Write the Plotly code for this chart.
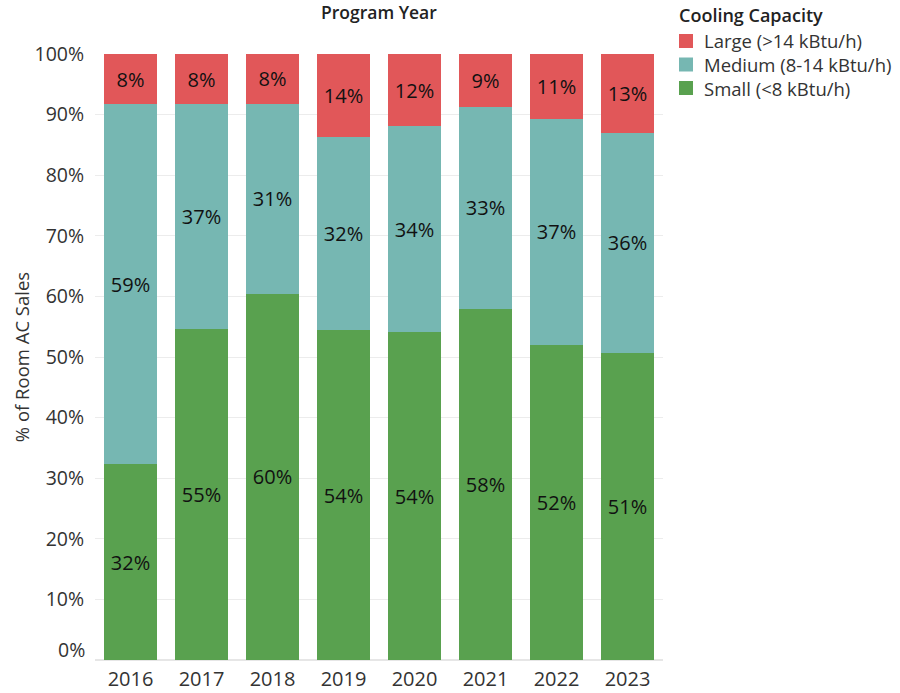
import plotly.graph_objects as go

years = ["2016", "2017", "2018", "2019", "2020", "2021", "2022", "2023"]

# share of room AC sales by cooling capacity, in percent
small = [32.3, 54.6, 60.4, 54.4, 54.1, 57.9, 52.0, 50.7]
medium = [59.4, 37.1, 31.4, 31.9, 34.0, 33.4, 37.3, 36.3]
large = [8.3, 8.3, 8.2, 13.7, 11.9, 8.7, 10.7, 13.0]

y_ticks = [10, 20, 30, 40, 50, 60, 70, 80, 90, 100]
y_tick_labels = [f"{v}%" for v in y_ticks]

series = [
    ("Small (<8 kBtu/h)", small, "#59A14F"),
    ("Medium (8-14 kBtu/h)", medium, "#76B7B2"),
    ("Large (>14 kBtu/h)", large, "#E15759"),
]

FONT = "Open Sans"
W, H = 900, 693
ML, MR, MT, MB = 95, 237, 54, 33
PW, PH = W - ML - MR, H - MT - MB


def px_to_paper(x, y):
    """Pixel position on the page -> paper coordinates of the plot area."""
    return (x - ML) / PW, (H - MB - y) / PH


fig = go.Figure()
for name, vals, color in series:
    fig.add_trace(go.Bar(
        x=years,
        y=vals,
        name=name,
        marker=dict(color=color, line=dict(width=0)),
        text=[f"{v:.0f}%" for v in vals],
        textposition="inside",
        insidetextanchor="middle",
        textangle=0,
        constraintext="none",
        textfont=dict(family=FONT, size=20, color="#111111"),
        hovertemplate="%{x}<br>" + name + ": %{y:.1f}%<extra></extra>",
        showlegend=False,
    ))

annotations = [
    dict(
        text="Program Year",
        xref="paper", yref="paper",
        x=0.5, y=1,
        xanchor="center", yanchor="top",
        yshift=56,
        showarrow=False,
        font=dict(family=FONT, size=17.5, color="#222222", weight=600),
    ),
    # the 0% label sits just above the baseline
    dict(
        text="0%",
        xref="paper", yref="y",
        x=0, y=0,
        xanchor="right", yanchor="middle",
        xshift=-8, yshift=11,
        showarrow=False,
        font=dict(family=FONT, size=19.5, color="#333333"),
    ),
]
shapes = []

# legend: title plus one swatch per capacity class, largest first
lx, ly = px_to_paper(677, 15)
annotations.append(dict(
    text="Cooling Capacity",
    xref="paper", yref="paper", x=lx, y=ly,
    xanchor="left", yanchor="middle", showarrow=False,
    font=dict(family=FONT, size=18, color="#222222", weight=600),
))
row_y = [41, 64.5, 88]
for (name, _, color), cy in zip(reversed(series), row_y):
    x0, y0 = px_to_paper(679, cy + 7)
    x1, y1 = px_to_paper(693, cy - 7)
    shapes.append(dict(
        type="rect", xref="paper", yref="paper",
        x0=x0, y0=y0, x1=x1, y1=y1,
        fillcolor=color, line=dict(width=0),
    ))
    tx, ty = px_to_paper(702, cy)
    annotations.append(dict(
        text=name,
        xref="paper", yref="paper", x=tx, y=ty,
        xanchor="left", yanchor="middle", showarrow=False,
        font=dict(family=FONT, size=18.5, color="#333333"),
    ))

fig.update_layout(
    barmode="stack",
    bargap=0.24,
    width=W,
    height=H,
    margin=dict(l=ML, r=MR, t=MT, b=MB, autoexpand=False),
    paper_bgcolor="white",
    plot_bgcolor="white",
    font=dict(family=FONT, size=18, color="#333333"),
    showlegend=False,
    xaxis=dict(
        type="category",
        automargin=False,
        showgrid=False,
        showline=False,
        ticks="outside",
        ticklen=1,
        tickcolor="white",
        tickfont=dict(family=FONT, size=20, color="#333333"),
    ),
    yaxis=dict(
        range=[0, 100],
        automargin=False,
        tickmode="array",
        tickvals=y_ticks,
        ticktext=y_tick_labels,
        showgrid=True,
        gridcolor="#ececec",
        gridwidth=1,
        zeroline=True,
        zerolinecolor="#e6e6e6",
        ticks="outside",
        ticklen=6,
        tickcolor="white",
        tickfont=dict(family=FONT, size=19.5, color="#333333"),
        title=dict(text="% of Room AC Sales", font=dict(family=FONT, size=18.5, color="#333333"), standoff=0),
    ),
    annotations=annotations,
    shapes=shapes,
)

fig.write_html("out.html")
